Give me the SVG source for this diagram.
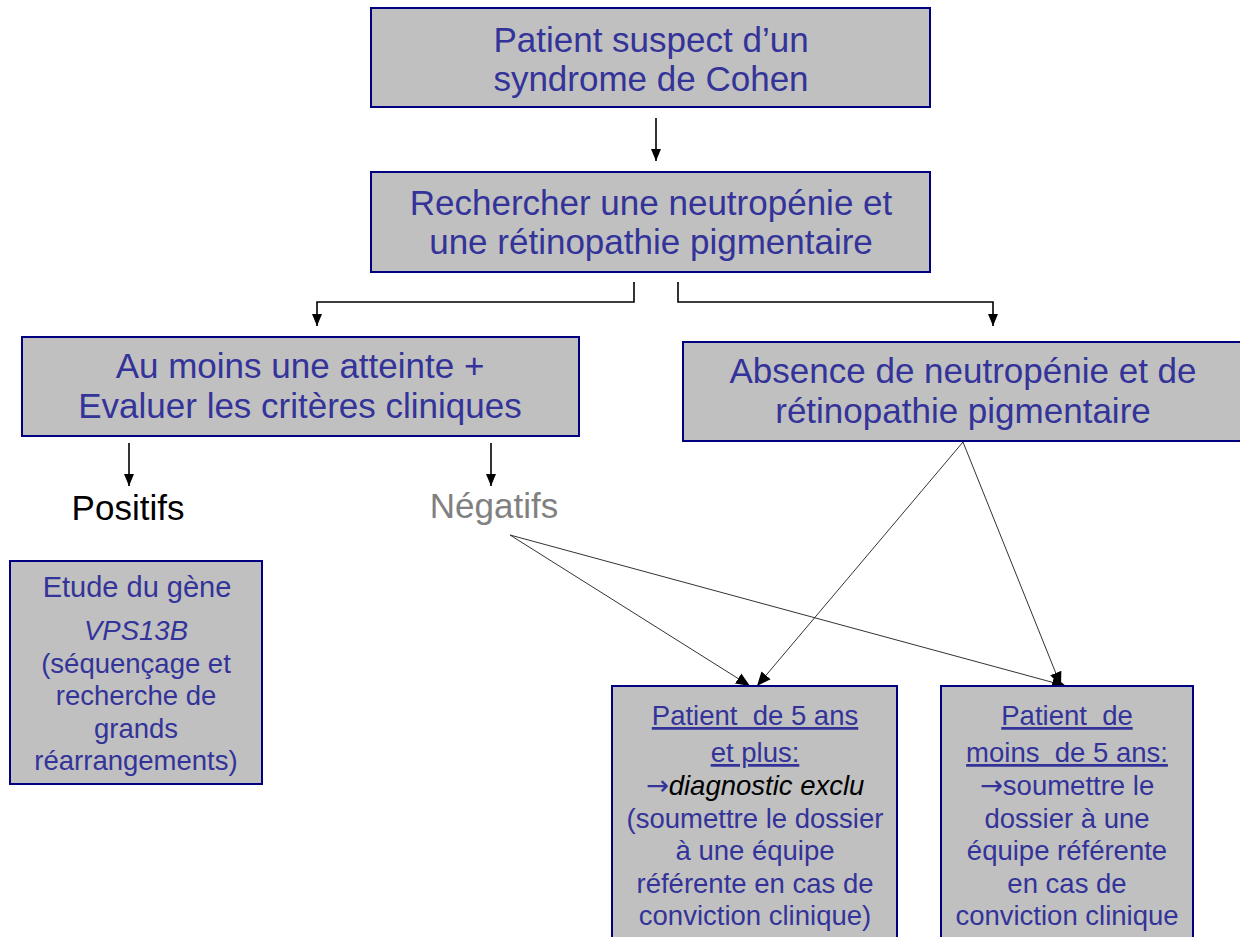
<svg xmlns="http://www.w3.org/2000/svg" width="1240" height="937" viewBox="0 0 1240 937">
<style>
.box{fill:#C0C0C0;stroke:#000080;stroke-width:2}
.t{font-family:"Liberation Sans",Arial,sans-serif;fill:#333399;text-anchor:middle}
.big{font-size:35px}
.sm{font-size:27.5px}
.ar{font-family:"DejaVu Sans",sans-serif}
.ln{fill:none;stroke:#000;stroke-width:1.6}
.dg{fill:none;stroke:#333;stroke-width:1}
</style>
<defs>
<marker id="ah" markerWidth="12" markerHeight="10" refX="12" refY="5" orient="auto" markerUnits="userSpaceOnUse" viewBox="0 0 12 10">
<path d="M0,0 L12,5 L0,10 Z" fill="#000"/>
</marker>
<marker id="ad" markerWidth="14" markerHeight="14" refX="14" refY="7" orient="auto" markerUnits="userSpaceOnUse" viewBox="0 0 14 14">
<path d="M0,1 L14,7 L0,13 Z" fill="#000"/>
</marker>
</defs>
<rect width="1240" height="937" fill="#fff"/>

<g id="connectors">
<path class="ln" d="M656,118 V161" marker-end="url(#ah)"/>
<path class="ln" d="M634,282 V302 H317 V326" marker-end="url(#ah)"/>
<path class="ln" d="M678,282 V302 H993 V326" marker-end="url(#ah)"/>
<path class="ln" d="M129,443 V486" marker-end="url(#ah)"/>
<path class="ln" d="M491,443 V486" marker-end="url(#ah)"/>
<path class="dg" d="M510,535 L750,686" marker-end="url(#ad)"/>
<path class="dg" d="M510,535 L1066,686" marker-end="url(#ad)"/>
<path class="dg" d="M963,442 L757,686" marker-end="url(#ad)"/>
<path class="dg" d="M963,442 L1061,686" marker-end="url(#ad)"/>
</g>

<g id="n1">
<rect class="box" x="371" y="8" width="559" height="99"/>
<text class="t big" x="651" y="52">Patient suspect d’un</text>
<text class="t big" x="651" y="91">syndrome de Cohen</text>
</g>

<g id="n2">
<rect class="box" x="371" y="172" width="559" height="100"/>
<text class="t big" x="651" y="215">Rechercher une neutropénie et</text>
<text class="t big" x="651" y="254">une rétinopathie pigmentaire</text>
</g>

<g id="n3">
<rect class="box" x="22" y="337" width="557" height="99"/>
<text class="t big" x="300" y="378">Au moins une atteinte +</text>
<text class="t big" x="300" y="418">Evaluer les critères cliniques</text>
</g>

<g id="n4">
<rect class="box" x="683" y="342" width="560" height="99"/>
<text class="t big" x="963" y="383">Absence de neutropénie et de</text>
<text class="t big" x="963" y="423">rétinopathie pigmentaire</text>
</g>

<g id="n5">
<text class="t big" x="128" y="520" style="fill:#000">Positifs</text>
</g>

<g id="n6">
<text class="t big" x="494" y="518" style="fill:#808080">Négatifs</text>
</g>

<g id="n7">
<rect class="box" x="10" y="561" width="252" height="223"/>
<text class="t" x="137" y="597" style="font-size:29px" xml:space="preserve">Etude du gène</text>
<text class="t sm" x="136" y="640" font-style="italic">VPS13B</text>
<text class="t sm" x="136" y="673">(séquençage et</text>
<text class="t sm" x="136" y="705">recherche de</text>
<text class="t sm" x="136" y="738">grands</text>
<text class="t sm" x="136" y="770">réarrangements)</text>
</g>

<g id="n8">
<rect class="box" x="612" y="686" width="285" height="260"/>
<text class="t sm" x="755" y="725" text-decoration="underline" xml:space="preserve">Patient  de 5 ans</text>
<text class="t sm" x="755" y="762" text-decoration="underline">et plus:</text>
<text class="t sm" x="755" y="795"><tspan class="ar">→</tspan><tspan font-style="italic" fill="#000">diagnostic exclu</tspan></text>
<text class="t sm" x="755" y="828">(soumettre le dossier</text>
<text class="t sm" x="755" y="860">à une équipe</text>
<text class="t sm" x="755" y="893">référente en cas de</text>
<text class="t sm" x="755" y="925">conviction clinique)</text>
</g>

<g id="n9">
<rect class="box" x="941" y="686" width="252" height="260"/>
<text class="t sm" x="1067" y="725" text-decoration="underline" xml:space="preserve">Patient  de</text>
<text class="t sm" x="1067" y="762" text-decoration="underline" xml:space="preserve">moins  de 5 ans:</text>
<text class="t sm" x="1067" y="795"><tspan class="ar">→</tspan>soumettre le</text>
<text class="t sm" x="1067" y="828">dossier à une</text>
<text class="t sm" x="1067" y="860">équipe référente</text>
<text class="t sm" x="1067" y="893">en cas de</text>
<text class="t sm" x="1067" y="925">conviction clinique</text>
</g>
</svg>
